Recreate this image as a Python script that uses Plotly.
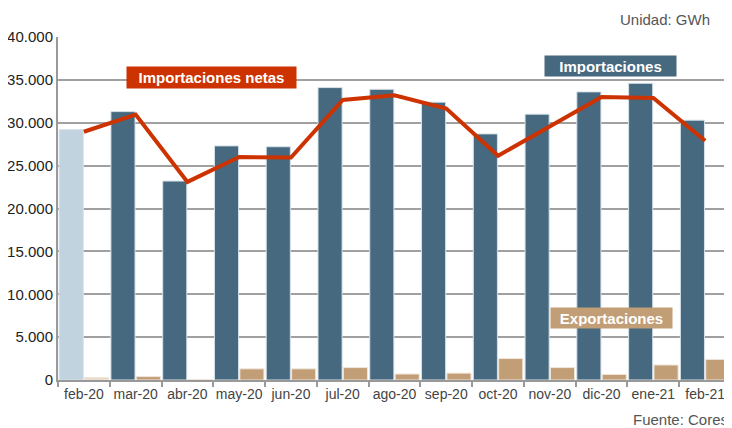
import plotly.graph_objects as go

months = ["feb-20", "mar-20", "abr-20", "may-20", "jun-20", "jul-20", "ago-20",
          "sep-20", "oct-20", "nov-20", "dic-20", "ene-21", "feb-21"]
importaciones = [29200, 31300, 23200, 27300, 27200, 34100, 33900,
                 32400, 28700, 31000, 33600, 34600, 30300]
exportaciones = [300, 400, 50, 1300, 1300, 1450, 700,
                 800, 2500, 1450, 650, 1750, 2400]
netas = [28950, 30950, 23100, 26000, 25950, 32650, 33200,
         31650, 26150, 29600, 33000, 32900, 27900]

imp_colors = ["#C1D3DF"] + ["#46697F"] * (len(months) - 1)
exp_colors = ["#E8D9C8"] + ["#C29E76"] * (len(months) - 1)

fig = go.Figure()
fig.add_trace(go.Bar(x=months, y=importaciones, name="Importaciones",
                     marker=dict(color=imp_colors, line=dict(color="#D6E1E9", width=1))))
fig.add_trace(go.Bar(x=months, y=exportaciones, name="Exportaciones",
                     marker=dict(color=exp_colors, line=dict(color="#EFE5DA", width=1))))
fig.add_trace(go.Scatter(x=months, y=netas, name="Importaciones netas", mode="lines",
                         line=dict(color="#CC3300", width=4)))

font = "Liberation Sans, Arial, sans-serif"
fig.update_layout(
    width=724, height=420,
    margin=dict(l=50, r=1, t=29, b=48),
    paper_bgcolor="white", plot_bgcolor="white",
    barmode="group", bargap=0.02, bargroupgap=0.05,
    showlegend=False,
    separators=",.",
    font=dict(family=font, size=15, color="#222222"),
    xaxis=dict(type="category", tickson="boundaries", ticks="outside", ticklen=5,
               tickcolor="#999999", tickwidth=1.5, showline=True, linecolor="#999999",
               linewidth=2, showgrid=False, tickangle=0, automargin=False,
               tickfont=dict(size=14, color="#444444")),
    yaxis=dict(range=[0, 40000], dtick=5000, tickformat=",d", showgrid=True,
               gridcolor="#A0A0A0", gridwidth=2, showline=True, linecolor="#999999",
               linewidth=2, ticks="", zeroline=False, automargin=False,
               tickfont=dict(size=15, color="#222222")),
    annotations=[
        dict(text="<b>Importaciones netas</b>", xref="paper", yref="paper",
             x=0.228, y=0.882, xanchor="center", yanchor="middle",
             showarrow=False, bgcolor="#CC3300",
             width=165, height=17, borderpad=2,
             font=dict(color="white", size=15, family=font)),
        dict(text="<b>Importaciones</b>", xref="paper", yref="paper",
             x=0.821, y=0.915, xanchor="center", yanchor="middle",
             showarrow=False, bgcolor="#46697F",
             width=127, height=16, borderpad=2,
             font=dict(color="white", size=15, family=font)),
        dict(text="<b>Exportaciones</b>", xref="paper", yref="paper",
             x=0.822, y=0.181, xanchor="center", yanchor="middle",
             showarrow=False, bgcolor="#C29E76",
             width=117, height=16, borderpad=2,
             font=dict(color="white", size=15, family=font)),
        dict(text="Unidad: GWh", xref="paper", yref="paper", x=0.972, y=1.0496,
             xanchor="right", yanchor="middle", showarrow=False,
             font=dict(color="#555555", size=15, family=font)),
        dict(text="Fuente: Cores", xref="paper", yref="paper", x=0.9985, y=-0.1166,
             xanchor="right", yanchor="middle", showarrow=False,
             font=dict(color="#555555", size=15, family=font)),
    ],
)

fig.write_html("out.html", config={"displayModeBar": False})
